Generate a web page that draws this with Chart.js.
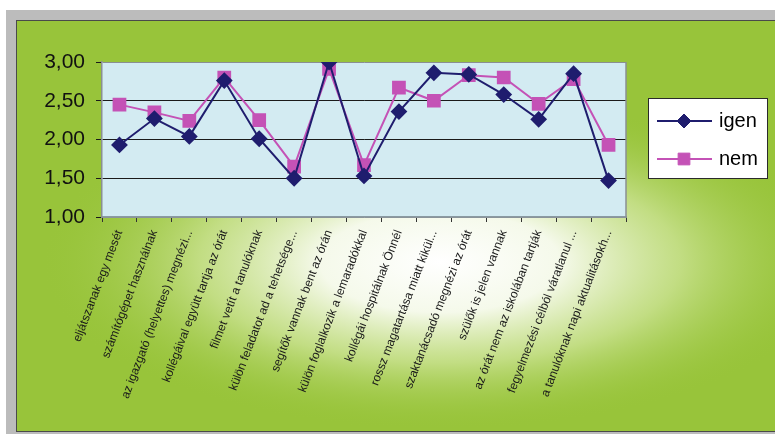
<!DOCTYPE html>
<html>
<head>
<meta charset="utf-8">
<script src="https://cdn.jsdelivr.net/npm/chart.js@4.4.1/dist/chart.umd.min.js"></script>
<style>
  html, body { margin: 0; padding: 0; background: #ffffff; }
  #wrap { width: 775px; height: 434px; position: relative; }
</style>
</head>
<body>
<div id="wrap"><canvas id="c" width="775" height="434"></canvas></div>
<script>
// Survey items (category axis)
const categories = [
  "eljátszanak egy mesét",
  "számítógépet használnak",
  "az igazgató (helyettes) megnézi...",
  "kollégáival együtt tartja az órát",
  "filmet vetít a tanulóknak",
  "külön feladatot ad a tehetsége...",
  "segítők vannak bent az órán",
  "külön foglalkozik a lemaradókkal",
  "kollégái hospitálnak Önnél",
  "rossz magatartása miatt kikül...",
  "szaktanácsadó megnézi az órát",
  "szülők is jelen vannak",
  "az órát nem az iskolában tartják",
  "fegyelmezési célból váratlanul ...",
  "a tanulóknak napi aktualitásokh..."
];

// Mean scores per answer group
const igenValues = [1.93, 2.27, 2.04, 2.76, 2.01, 1.50, 3.00, 1.53, 2.36, 2.86, 2.84, 2.58, 2.26, 2.85, 1.47];
const nemValues  = [2.45, 2.35, 2.24, 2.80, 2.25, 1.65, 2.91, 1.67, 2.67, 2.50, 2.83, 2.80, 2.46, 2.78, 1.93];

const seriesNames = ["igen", "nem"];
const yTicks = [1.00, 1.50, 2.00, 2.50, 3.00];

const NAVY = "#1f1d6e";
const MAGENTA = "#c452b6";

// Gray frame, green panel with a soft light glow, plot area fill
const backdrop = {
  id: "backdrop",
  beforeDraw(chart) {
    const ctx = chart.ctx;
    const W = chart.width, H = chart.height;
    ctx.save();
    ctx.fillStyle = "#ffffff";
    ctx.fillRect(0, 0, W, H);
    ctx.fillStyle = "#bcbcbc";
    ctx.fillRect(6, 10, W - 6, H - 10);
    ctx.fillStyle = "#4a4a4a";
    ctx.fillRect(16, 20, W - 16, 412);
    ctx.fillStyle = "#98c43a";
    ctx.fillRect(17, 21, W - 17, 410);

    // elliptical glow behind the lower middle
    ctx.save();
    ctx.beginPath();
    ctx.rect(17, 21, W - 17, 410);
    ctx.clip();
    ctx.translate(440, 262);
    ctx.scale(1, 0.42);
    const R = 400;
    const g = ctx.createRadialGradient(0, 0, 0, 0, 0, R);
    g.addColorStop(0, "rgba(255,255,255,1)");
    g.addColorStop(0.3, "rgba(248,251,240,0.97)");
    g.addColorStop(0.6, "rgba(212,232,162,0.7)");
    g.addColorStop(1, "rgba(152,196,58,0)");
    ctx.fillStyle = g;
    ctx.beginPath();
    ctx.arc(0, 0, R, 0, Math.PI * 2);
    ctx.fill();
    ctx.restore();

    const a = chart.chartArea;
    ctx.fillStyle = "#d3ebf2";
    ctx.fillRect(a.left, a.top, a.right - a.left, a.bottom - a.top);
    ctx.restore();
  },
  afterDatasetsDraw(chart) {
    // right edge of the plot area
    const a = chart.chartArea;
    const ctx = chart.ctx;
    ctx.save();
    ctx.strokeStyle = "#8a8f92";
    ctx.lineWidth = 1.5;
    ctx.beginPath();
    ctx.moveTo(a.right, a.top);
    ctx.lineTo(a.right, a.bottom);
    ctx.stroke();
    ctx.restore();
  }
};

// Boxed legend on the right
const boxLegend = {
  id: "boxLegend",
  afterDraw(chart) {
    const ctx = chart.ctx;
    const x = 648, y = 98, w = 119, h = 80;
    ctx.save();
    ctx.fillStyle = "#ffffff";
    ctx.fillRect(x, y, w, h);
    ctx.strokeStyle = "#2a2a2a";
    ctx.lineWidth = 1;
    ctx.strokeRect(x + 0.5, y + 0.5, w, h);
    chart.data.datasets.forEach((ds, i) => {
      const cy = y + 23 + i * 38;
      ctx.strokeStyle = ds.borderColor;
      ctx.lineWidth = 2;
      ctx.beginPath();
      ctx.moveTo(657, cy);
      ctx.lineTo(712, cy);
      ctx.stroke();
      ctx.fillStyle = ds.pointBackgroundColor;
      ctx.strokeStyle = ds.pointBorderColor;
      ctx.lineWidth = 1;
      Chart.helpers.drawPoint(ctx, {
        pointStyle: ds.pointStyle,
        radius: ds.pointRadius,
        rotation: 0,
        borderWidth: 1
      }, 684, cy);
      ctx.fillStyle = "#000000";
      ctx.font = "20px 'Liberation Sans', Arial, sans-serif";
      ctx.textBaseline = "middle";
      ctx.textAlign = "left";
      ctx.fillText(ds.label, 719, cy);
    });
    ctx.restore();
  }
};

new Chart(document.getElementById("c"), {
  type: "line",
  data: {
    labels: categories,
    datasets: [
      {
        label: seriesNames[0],
        data: igenValues,
        borderColor: NAVY,
        backgroundColor: NAVY,
        pointBackgroundColor: NAVY,
        pointBorderColor: NAVY,
        pointStyle: "rectRot",
        pointRadius: 7,
        pointHoverRadius: 7,
        borderWidth: 2,
        tension: 0
      },
      {
        label: seriesNames[1],
        data: nemValues,
        borderColor: MAGENTA,
        backgroundColor: MAGENTA,
        pointBackgroundColor: MAGENTA,
        pointBorderColor: MAGENTA,
        pointStyle: "rect",
        pointRadius: 8.3,
        pointHoverRadius: 8.3,
        borderWidth: 2,
        tension: 0
      }
    ]
  },
  options: {
    responsive: false,
    animation: false,
    events: [],
    layout: { padding: { left: 22, top: 62, right: 149, bottom: 0 } },
    plugins: {
      legend: { display: false },
      tooltip: { enabled: false }
    },
    scales: {
      x: {
        type: "category",
        offset: true,
        afterFit(scale) { scale.height = 217; },
        grid: {
          offset: true,
          drawOnChartArea: false,
          drawTicks: true,
          tickLength: 5,
          color: "#333333",
          lineWidth: 1
        },
        border: { display: true, color: "#8a9aa2", width: 1.5 },
        ticks: {
          autoSkip: false,
          minRotation: 69,
          maxRotation: 69,
          padding: 6,
          color: "#1a1a1a",
          font: { family: "'Liberation Sans', Arial, sans-serif", size: 12 }
        }
      },
      y: {
        min: 1,
        max: 3,
        afterFit(scale) { scale.width = 80; },
        afterBuildTicks(scale) {
          scale.ticks = yTicks.map(v => ({ value: v }));
        },
        grid: {
          color: ctx => (ctx.tick && (ctx.tick.value === 3 || ctx.tick.value === 1)) ? "#8a8f92" : "#1a1a1a",
          lineWidth: 1,
          tickLength: 6,
          tickColor: "#1a1a1a",
          drawTicks: true
        },
        border: { display: true, color: "#8a8f92", width: 1.5 },
        ticks: {
          padding: 11,
          color: "#111111",
          font: { family: "'Liberation Sans', Arial, sans-serif", size: 21 },
          callback: v => v.toFixed(2).replace(".", ",")
        }
      }
    }
  },
  plugins: [backdrop, boxLegend]
});
</script>
</body>
</html>
